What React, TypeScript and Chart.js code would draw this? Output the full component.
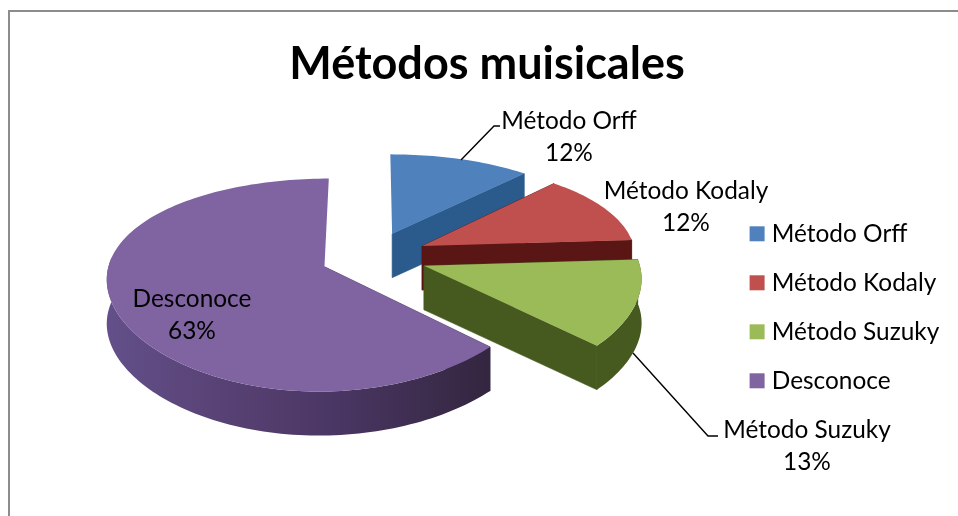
import React, { useEffect, useRef } from "react";
import { Chart, registerables } from "chart.js";

Chart.register(...registerables);

const categories = ["Método Orff", "Método Kodaly", "Método Suzuky", "Desconoce"];
const shares = [12, 12, 13, 63];
const explode = [48, 48, 47, 44];
const sliceColors = ["#4F81BD", "#C0504D", "#9BBB59", "#8064A2"];
const wallColors = ["#2B5A8C", "#5A1614", "#46591F", "#3F2F58"];
const chartTitle = "Métodos muisicales";

const FONT = "Lato, Carlito, Calibri, sans-serif";
const CX = 372, CY = 257;
const RX = 214, RY = 100, PERSP_X = 0.1, PERSP_Y = 0.17, DEPTH = 44;

function project(u: number, v: number, h = 0) {
  const sx = 1 / (1 - PERSP_X * v);
  const sy = 1 / (1 - PERSP_Y * v);
  return { x: CX + RX * u * sx, y: CY + RY * v * sy + DEPTH * h };
}

const labelAnchors = [
  { x: 569, y: 121, line: [[461, 160], [494, 126], [500, 126]] },
  { x: 686, y: 191, line: null },
  { x: 807, y: 430, line: [[633, 353], [708, 436], [718, 436]] },
  { x: 192, y: 299, line: null },
];

const pie3d = {
  id: "pie3d",
  afterLayout(chart: any) {
    const lg = chart.legend;
    lg.left = 730;
    lg.top = 197;
    lg.bottom = 516;
  },
  beforeDatasetDraw(chart: any, args: any) {
    const ctx = chart.ctx;
    const arcs = args.meta.data as any[];
    const geo = arcs.map((arc, i) => {
      const R = arc.outerRadius;
      const off = arc.options.offset / R;
      const a0 = arc.startAngle, a1 = arc.endAngle;
      const mid = (a0 + a1) / 2;
      const ox = Math.cos(mid) * off, oy = Math.sin(mid) * off;
      const pts: { u: number; v: number }[] = [];
      const n = Math.max(8, Math.round((a1 - a0) * 40));
      for (let k = 0; k <= n; k++) {
        const a = a0 + ((a1 - a0) * k) / n;
        pts.push({ u: ox + Math.cos(a), v: oy + Math.sin(a) });
      }
      return { i, ox, oy, pts, midV: oy + Math.sin(mid) * 0.5 };
    });
    const order = [...geo].sort((p, q) => p.midV - q.midV);
    for (const g of order) {
      const tip0 = project(g.ox, g.oy, 0);
      const tip1 = project(g.ox, g.oy, 1);
      const color = sliceColors[g.i];
      const wall = wallColors[g.i];
      const radialWall = (p: { u: number; v: number }) => {
        const a = project(p.u, p.v, 0), b = project(p.u, p.v, 1);
        // near-vertical edges face away from the viewer in the reference view
        if (Math.abs(a.y - tip0.y) > 1.5 * Math.abs(a.x - tip0.x)) return;
        ctx.beginPath();
        ctx.moveTo(tip0.x, tip0.y); ctx.lineTo(a.x, a.y); ctx.lineTo(b.x, b.y); ctx.lineTo(tip1.x, tip1.y);
        ctx.closePath();
        ctx.fillStyle = wall; ctx.strokeStyle = wall; ctx.lineWidth = 0.6;
        ctx.fill(); ctx.stroke();
      };
      radialWall(g.pts[0]);
      radialWall(g.pts[g.pts.length - 1]);
      // only the front-facing run of the rim gets a curved wall
      const rim = g.pts.filter((p) => p.v - g.oy > -0.1);
      if (rim.length > 1) {
        const xs = rim.map((p) => project(p.u, p.v).x);
        const x0 = Math.min(...xs), x1 = Math.max(...xs);
        const grad = ctx.createLinearGradient(x0, 0, x1, 0);
        if (g.i === 3) {
          grad.addColorStop(0, "#63508A");
          grad.addColorStop(0.25, "#5A4478");
          grad.addColorStop(0.6, "#4A3663");
          grad.addColorStop(1, "#33263F");
        } else {
          grad.addColorStop(0, wall);
          grad.addColorStop(1, wall);
        }
        ctx.beginPath();
        rim.forEach((p, k) => {
          const q = project(p.u, p.v, 0);
          k ? ctx.lineTo(q.x, q.y) : ctx.moveTo(q.x, q.y);
        });
        [...rim].reverse().forEach((p) => {
          const q = project(p.u, p.v, 1);
          ctx.lineTo(q.x, q.y);
        });
        ctx.closePath();
        ctx.fillStyle = grad;
        ctx.fill();
      }
      ctx.beginPath();
      ctx.moveTo(tip0.x, tip0.y);
      g.pts.forEach((p) => {
        const q = project(p.u, p.v, 0);
        ctx.lineTo(q.x, q.y);
      });
      ctx.closePath();
      ctx.fillStyle = color;
      ctx.fill();
    }
    return false;
  },
  afterDatasetsDraw(chart: any) {
    const ctx = chart.ctx;
    ctx.save();
    ctx.font = `24.4px ${FONT}`;
    ctx.fillStyle = "#000";
    ctx.textAlign = "center";
    ctx.textBaseline = "middle";
    const total = shares.reduce((a, b) => a + b, 0);
    categories.forEach((c, i) => {
      const a = labelAnchors[i];
      ctx.fillText(c, a.x, a.y);
      ctx.fillText(`${Math.round((shares[i] / total) * 100)}%`, a.x, a.y + 32);
      if (a.line) {
        ctx.beginPath();
        a.line.forEach((p, k) => (k ? ctx.lineTo(p[0], p[1]) : ctx.moveTo(p[0], p[1])));
        ctx.strokeStyle = "#000";
        ctx.lineWidth = 1.4;
        ctx.stroke();
      }
    });
    ctx.restore();
  },
};

export default function App() {
  const ref = useRef<HTMLCanvasElement>(null);
  useEffect(() => {
    document.body.style.margin = "0";
    const chart = new Chart(ref.current!, {
      type: "pie",
      data: {
        labels: categories,
        datasets: [{ data: shares, backgroundColor: sliceColors, borderWidth: 0, offset: explode }],
      },
      plugins: [pie3d],
      options: {
        responsive: false,
        animation: false,
        devicePixelRatio: 1,
        rotation: 0,
        layout: { padding: { top: 37, right: 4, bottom: 0, left: 20 } },
        plugins: {
          tooltip: { enabled: false },
          title: {
            display: true,
            text: chartTitle,
            color: "#000",
            font: { family: FONT, size: 45, weight: "bold" },
            padding: { top: 0, bottom: 10 },
          },
          legend: {
            position: "right",
            align: "start",
            labels: {
              color: "#000",
              font: { family: FONT, size: 24.4 },
              usePointStyle: true,
              pointStyle: "rect",
              boxWidth: 5,
              boxHeight: 15,
              padding: 24.6,
            },
          },
        },
      } as any,
    });
    return () => chart.destroy();
  }, []);
  return (
    <div style={{ position: "absolute", left: 0, top: 0, width: 958, height: 516, overflow: "hidden", background: "#fff" }}>
      <canvas ref={ref} width={958} height={516} style={{ display: "block" }} />
      <div style={{ position: "absolute", left: 8, top: 10, width: 950, height: 506, borderLeft: "2px solid #8C8C8C", borderTop: "2px solid #8C8C8C", boxSizing: "border-box", pointerEvents: "none" }} />
    </div>
  );
}
